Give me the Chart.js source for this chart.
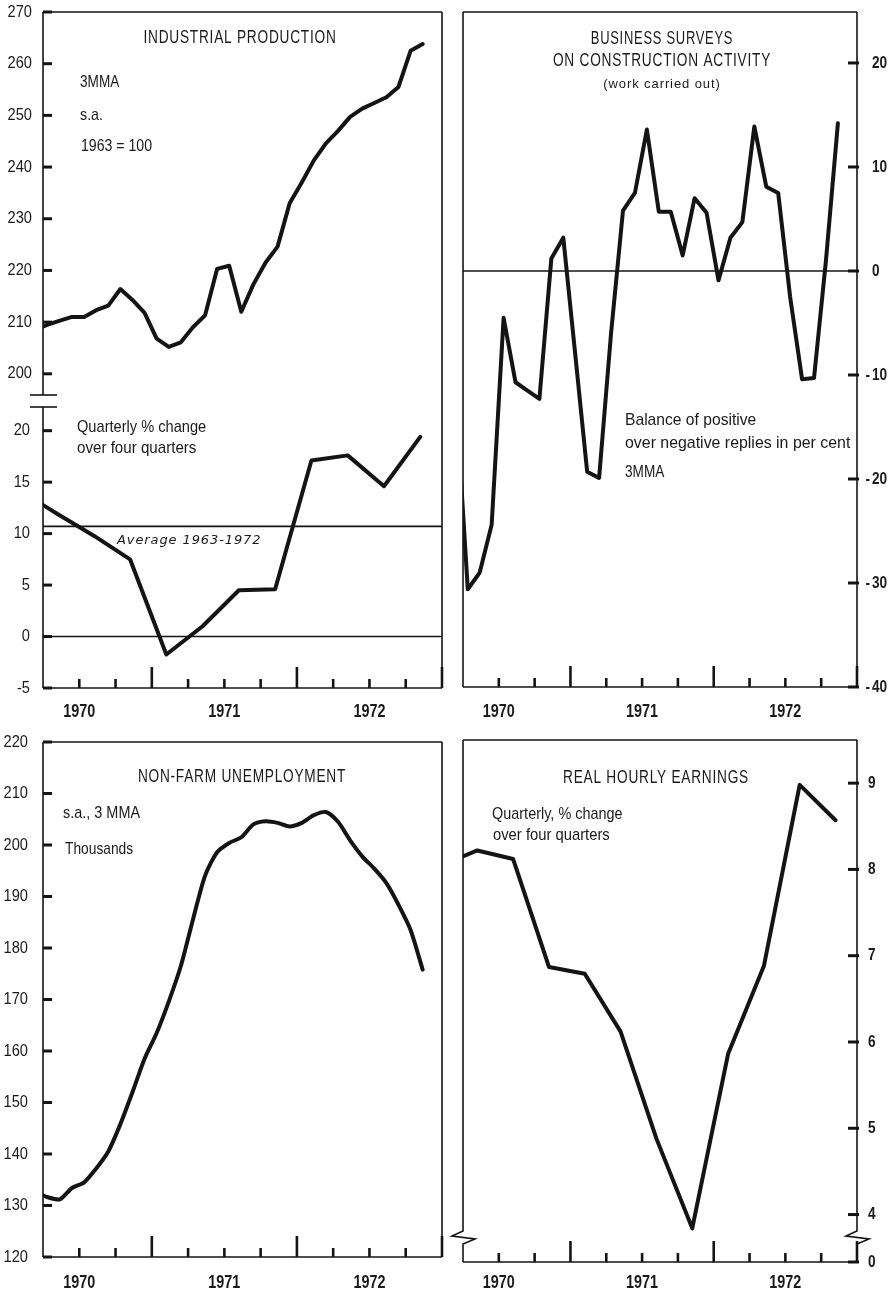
<!DOCTYPE html>
<html>
<head>
<meta charset="utf-8">
<title>Economic indicators 1970–1972</title>
<script src="https://cdn.jsdelivr.net/npm/chart.js@4.4.1/dist/chart.umd.min.js"></script>
<style>
  html, body { margin: 0; padding: 0; background: #ffffff; }
  #sheet { position: relative; width: 891px; height: 1294px; overflow: hidden; background: #ffffff; }
  #sheet canvas { position: absolute; left: 0; top: 0; }
</style>
</head>
<body>
<div id="sheet">
  <canvas id="ipChart" width="891" height="1294"></canvas>
  <canvas id="ipChangeChart" width="891" height="1294"></canvas>
  <canvas id="constructionChart" width="891" height="1294"></canvas>
  <canvas id="unemploymentChart" width="891" height="1294"></canvas>
  <canvas id="earningsChart" width="891" height="1294"></canvas>
</div>
<script>
// ---------------- Data ----------------
// Monthly observations (March 1970 – November 1972)
const MONTHS = [
  '1970-03','1970-04','1970-05','1970-06','1970-07','1970-08','1970-09','1970-10','1970-11','1970-12',
  '1971-01','1971-02','1971-03','1971-04','1971-05','1971-06','1971-07','1971-08','1971-09','1971-10','1971-11','1971-12',
  '1972-01','1972-02','1972-03','1972-04','1972-05','1972-06','1972-07','1972-08','1972-09','1972-10','1972-11'
];
// Quarterly observations (1970 Q1 – 1972 Q4)
const QUARTERS = [
  '1970-Q1','1970-Q2','1970-Q3','1970-Q4',
  '1971-Q1','1971-Q2','1971-Q3','1971-Q4',
  '1972-Q1','1972-Q2','1972-Q3','1972-Q4'
];
const YEARS = ['1970', '1971', '1972'];

// Industrial production, 3MMA, s.a., 1963 = 100
const INDUSTRIAL_PRODUCTION = [
  208.6, 209.5, 210.3, 211.0, 211.0, 212.3, 213.2, 216.4, 214.3, 211.8,
  206.8, 205.2, 206.1, 209.0, 211.3, 220.3, 220.9, 212.0, 217.3, 221.5, 224.6, 233.0,
  237.0, 241.3, 244.6, 247.0, 249.7, 251.3, 252.4, 253.5, 255.5, 262.5, 263.8
];
// Industrial production, quarterly % change over four quarters
const IP_CHANGE = [14.1, 11.9, 9.8, 7.5, -1.75, 1.0, 4.5, 4.6, 17.1, 17.6, 14.6, 19.4];
const IP_AVERAGE_1963_1972 = 10.7;

// Business surveys on construction activity: balance of replies, %, 3MMA
const CONSTRUCTION_BALANCE = [
  -12.0, -30.6, -29.0, -24.4, -4.5, -10.7, -11.5, -12.3, 1.2, 3.2,
  -8.0, -19.3, -19.9, -6.0, 5.8, 7.5, 13.6, 5.7, 5.7, 1.5, 7.0, 5.6,
  -0.9, 3.2, 4.7, 13.9, 8.1, 7.5, -2.5, -10.4, -10.3, 1.0, 14.2
];

// Non-farm unemployment, thousands, s.a., 3MMA
const UNEMPLOYMENT = [
  132.6, 131.6, 131.2, 133.4, 134.5, 137.2, 140.5, 145.8, 152.0, 158.5,
  163.5, 169.6, 176.5, 185.5, 194.0, 198.6, 200.4, 201.5, 204.0, 204.6, 204.3, 203.6,
  204.3, 205.8, 206.4, 204.5, 200.9, 197.8, 195.4, 192.6, 188.4, 183.5, 175.8
];

// Real hourly earnings, quarterly % change over four quarters
const REAL_EARNINGS = [8.05, 8.22, 8.12, 6.87, 6.79, 6.12, 4.88, 3.84, 5.86, 6.88, 8.98, 8.57];

// Axis tick labels
const IP_TICKS = [200, 210, 220, 230, 240, 250, 260, 270];
const IP_CHANGE_TICKS = [-5, 0, 5, 10, 15, 20];
const CONSTRUCTION_TICKS = [-40, -30, -20, -10, 0, 10, 20];
const UNEMPLOYMENT_TICKS = [120, 130, 140, 150, 160, 170, 180, 190, 200, 210, 220];
const EARNINGS_TICKS = [4, 5, 6, 7, 8, 9];
const EARNINGS_BREAK_LABEL = '0';

// ---------------- Time axis ----------------
// x is measured in months from the start of April 1970; the panels run to January 1973.
const X_MIN = 0, X_MAX = 33;
const MONTH_OFFSET = 0.4;    // monthly value sits near mid-month
const QUARTER_OFFSET = 1.2;  // quarterly value sits near mid-quarter
const monthPos = (label) => {
  const [y, m] = label.split('-').map(Number);
  return (y - 1970) * 12 + (m - 4) + MONTH_OFFSET;
};
const quarterPos = (label) => {
  const [y, q] = label.split('-Q').map(Number);
  return (y - 1970) * 12 + (q - 2) * 3 + QUARTER_OFFSET;
};
const yearPos = (label) => (Number(label) - 1970) * 12 + 3;   // middle of the year
const toPoints = (labels, values, pos) => labels.map((l, i) => ({ x: pos(l), y: values[i] }));

// ---------------- Styling ----------------
const INK = '#141414';
const TEXT = '#1a1a1a';
const FACE = "'Liberation Sans', Arial, sans-serif";
const ITALIC = "'DejaVu Sans', 'Liberation Sans', sans-serif";

// Text with optional horizontal compression (narrow lettering)
function drawText(ctx, text, x, y, f) {
  ctx.save();
  ctx.font = `${f.style || 'normal'} ${f.weight || 'normal'} ${f.size}px ${f.family || FACE}`;
  ctx.fillStyle = TEXT;
  ctx.textAlign = f.align || 'left';
  ctx.textBaseline = 'middle';
  if ('letterSpacing' in ctx) ctx.letterSpacing = (f.spacing || 0) + 'px';
  ctx.translate(x, y);
  ctx.scale(f.sx || 1, 1);
  ctx.fillText(text, 0, 0);
  ctx.restore();
}

const LEFT_TICK_FONT = { size: 17, sx: 0.86 };
const RIGHT_TICK_FONT = { size: 17, sx: 0.8, weight: 'bold' };
const YEAR_FONT = { size: 18, sx: 0.8, weight: 'bold', align: 'center' };
const TITLE = { size: 18, sx: 0.76, spacing: 1, align: 'center' };

// Frame, axis breaks, inward tick marks and axis labels of each panel
const panelAxes = {
  id: 'panelAxes',
  afterDatasetsDraw(chart, _args, o) {
    const { ctx, chartArea: a, scales } = chart;
    const seg = (x1, y1, x2, y2, w) => {
      ctx.lineWidth = w; ctx.beginPath(); ctx.moveTo(x1, y1); ctx.lineTo(x2, y2); ctx.stroke();
    };
    ctx.save();
    ctx.strokeStyle = INK;
    ctx.lineCap = 'butt';
    const fw = 1.6;
    const sides = o.sides || [];
    if (sides.includes('top')) seg(a.left, a.top, a.right, a.top, fw);
    if (sides.includes('bottom')) seg(a.left, a.bottom, a.right, a.bottom, fw);
    const vertical = (x, extra) => {
      if (o.zigzag) {
        const yz = a.bottom - o.zigzag;
        ctx.lineWidth = fw;
        ctx.beginPath();
        ctx.moveTo(x, a.top);
        ctx.lineTo(x, yz - 6);
        ctx.lineTo(x - 11, yz - 1);
        ctx.lineTo(x + 12, yz + 2);
        ctx.lineTo(x, yz + 7);
        ctx.lineTo(x, a.bottom);
        ctx.stroke();
      } else {
        seg(x, a.top, x, a.bottom + extra, fw);
      }
    };
    if (sides.includes('left')) vertical(a.left, 0);
    if (sides.includes('right')) vertical(a.right, o.extendRight || 0);
    if (o.breakBottom) seg(a.left - 13, a.bottom, a.left + 14, a.bottom, fw);
    if (o.breakTop) seg(a.left - 13, a.top, a.left + 14, a.top, fw);

    // y tick marks pointing into the plot, with their labels outside
    const y = scales.y;
    y.ticks.forEach(t => {
      const py = y.getPixelForValue(t.value);
      const label = String(t.label);
      if (o.ySide === 'left') {
        seg(a.left, py, a.left + 9, py, 3);
        drawText(ctx, label, a.left - o.labelGap, py, { ...LEFT_TICK_FONT, align: 'right' });
      } else {
        seg(a.right - 9, py, a.right + 2, py, 3);
        const x0 = a.right + o.labelGap;
        if (label.startsWith('-')) {
          drawText(ctx, label.slice(1), x0, py, RIGHT_TICK_FONT);
          drawText(ctx, '-', x0 - 2, py, { ...RIGHT_TICK_FONT, align: 'right' });
        } else {
          drawText(ctx, label, x0, py, RIGHT_TICK_FONT);
        }
      }
    });

    // quarter ticks on the time axis (longer at year ends) and year labels
    if (o.xMarks) {
      const x = scales.x;
      for (let v = 3; v <= X_MAX; v += 3) {
        const px = x.getPixelForValue(v);
        const major = (v - 9) % 12 === 0;
        seg(px, a.bottom, px, a.bottom - (major ? 21 : 9), 2.6);
      }
      x.ticks.forEach(t => {
        drawText(ctx, String(t.label), x.getPixelForValue(t.value), a.bottom + o.yearGap, YEAR_FONT);
      });
    }
    ctx.restore();
  }
};

// Titles and explanatory notes placed inside each panel
const panelNotes = {
  id: 'panelNotes',
  afterDraw(chart, _args, o) {
    const { ctx, chartArea: a } = chart;
    (o.items || []).forEach(n => {
      const py = n.atValue !== undefined ? chart.scales.y.getPixelForValue(n.atValue) + n.dy : a.top + n.dy;
      drawText(ctx, n.text, a.left + n.dx, py, { size: 17, sx: 0.86, ...n });
    });
  }
};
Chart.register(panelAxes, panelNotes);

const seriesLine = (points, tension = 0) => ({
  data: points, borderColor: INK, borderWidth: 4, pointRadius: 0, tension,
  borderJoinStyle: 'round', borderCapStyle: 'round', clip: 0
});
const levelLine = (value) => ({
  data: [{ x: X_MIN, y: value }, { x: X_MAX, y: value }],
  borderColor: INK, borderWidth: 1.6, pointRadius: 0, clip: 0
});

function buildPanel(canvasId, spec) {
  return new Chart(document.getElementById(canvasId), {
    type: 'line',
    data: { datasets: spec.datasets },
    options: {
      responsive: false,
      animation: false,
      events: [],
      layout: { padding: spec.padding },
      plugins: {
        legend: { display: false },
        tooltip: { enabled: false },
        panelAxes: spec.axes,
        panelNotes: { items: spec.notes }
      },
      scales: {
        x: {
          type: 'linear', min: X_MIN, max: X_MAX, display: spec.showYears,
          grid: { display: false, drawTicks: false }, border: { display: false },
          afterBuildTicks: (s) => { s.ticks = YEARS.map(yr => ({ value: yearPos(yr) })); },
          afterFit: (s) => { if (spec.showYears) s.height = spec.xHeight; },
          ticks: {
            display: false, autoSkip: false,
            callback: (v) => YEARS.find(yr => yearPos(yr) === v) || ''
          }
        },
        y: {
          type: 'linear', position: spec.ySide, min: spec.yMin, max: spec.yMax,
          grid: { display: false, drawTicks: false }, border: { display: false },
          afterBuildTicks: (s) => { s.ticks = spec.yTicks.map(v => ({ value: v })); },
          afterFit: (s) => { s.width = spec.yWidth; },
          ticks: { display: false, callback: spec.yLabel || ((v) => String(v)) }
        }
      }
    }
  });
}

// Industrial production index
buildPanel('ipChart', {
  datasets: [seriesLine(toPoints(MONTHS, INDUSTRIAL_PRODUCTION, monthPos))],
  yMin: 195.9, yMax: 270, yTicks: IP_TICKS, ySide: 'left', yWidth: 43,
  showYears: false,
  padding: { left: 0, top: 12, right: 449, bottom: 899 },
  axes: { sides: ['top', 'left', 'right'], extendRight: 12, breakBottom: true, ySide: 'left', labelGap: 11 },
  notes: [
    { text: 'INDUSTRIAL PRODUCTION', dx: 197, dy: 26, ...TITLE },
    { text: '3MMA', dx: 37, dy: 70, sx: 0.8 },
    { text: 's.a.', dx: 37, dy: 103, sx: 0.84 },
    { text: '1963 = 100', dx: 38, dy: 134, sx: 0.83 }
  ]
});

// Industrial production, change over four quarters
buildPanel('ipChangeChart', {
  datasets: [
    levelLine(0),
    levelLine(IP_AVERAGE_1963_1972),
    seriesLine(toPoints(QUARTERS, IP_CHANGE, quarterPos))
  ],
  yMin: -5, yMax: 22.3, yTicks: IP_CHANGE_TICKS, ySide: 'left', yWidth: 43,
  showYears: true, xHeight: 36,
  padding: { left: 0, top: 407, right: 449, bottom: 570 },
  axes: { sides: ['left', 'right', 'bottom'], breakTop: true, ySide: 'left', labelGap: 13, xMarks: true, yearGap: 24 },
  notes: [
    { text: 'Quarterly % change', dx: 34, dy: 20, sx: 0.86 },
    { text: 'over four quarters', dx: 34, dy: 41, sx: 0.89 },
    { text: 'Average 1963-1972', dx: 74, dy: 14, atValue: IP_AVERAGE_1963_1972, size: 13, sx: 1, style: 'italic', family: ITALIC, spacing: 0.9 }
  ]
});

// Business surveys on construction activity
buildPanel('constructionChart', {
  datasets: [
    levelLine(0),
    seriesLine(toPoints(MONTHS, CONSTRUCTION_BALANCE, monthPos))
  ],
  yMin: -40, yMax: 24.9, yTicks: CONSTRUCTION_TICKS, ySide: 'right', yWidth: 34,
  showYears: true, xHeight: 36,
  padding: { left: 463, top: 12, right: 0, bottom: 571 },
  axes: { sides: ['top', 'left', 'right', 'bottom'], ySide: 'right', labelGap: 15, xMarks: true, yearGap: 25 },
  notes: [
    { text: 'BUSINESS SURVEYS', dx: 199, dy: 27, ...TITLE, sx: 0.72 },
    { text: 'ON CONSTRUCTION ACTIVITY', dx: 199, dy: 49, ...TITLE },
    { text: '(work carried out)', dx: 199, dy: 72, size: 13, sx: 1, spacing: 0.9, align: 'center' },
    { text: 'Balance of positive', dx: 162, dy: 408, sx: 0.92 },
    { text: 'over negative replies in per cent', dx: 162, dy: 431, sx: 0.935 },
    { text: '3MMA', dx: 162, dy: 460, sx: 0.8 }
  ]
});

// Non-farm unemployment
buildPanel('unemploymentChart', {
  datasets: [seriesLine(toPoints(MONTHS, UNEMPLOYMENT, monthPos), 0.25)],
  yMin: 120, yMax: 220, yTicks: UNEMPLOYMENT_TICKS, ySide: 'left', yWidth: 43,
  showYears: true, xHeight: 36,
  padding: { left: 0, top: 742, right: 449, bottom: 1 },
  axes: { sides: ['top', 'left', 'right', 'bottom'], ySide: 'left', labelGap: 15, xMarks: true, yearGap: 26 },
  notes: [
    { text: 'NON-FARM UNEMPLOYMENT', dx: 199, dy: 35, ...TITLE },
    { text: 's.a., 3 MMA', dx: 20, dy: 71, sx: 0.85 },
    { text: 'Thousands', dx: 22, dy: 107, sx: 0.81 }
  ]
});

// Real hourly earnings (axis broken between 0 and 4)
const EARNINGS_MIN = 3.45;
buildPanel('earningsChart', {
  datasets: [seriesLine(toPoints(QUARTERS, REAL_EARNINGS, quarterPos))],
  yMin: EARNINGS_MIN, yMax: 9.5, yTicks: [EARNINGS_MIN, ...EARNINGS_TICKS], ySide: 'right', yWidth: 34,
  yLabel: (v) => (v === EARNINGS_MIN ? EARNINGS_BREAK_LABEL : String(v)),
  showYears: true, xHeight: 32,
  padding: { left: 463, top: 740, right: 0, bottom: 0 },
  axes: { sides: ['top', 'left', 'right', 'bottom'], zigzag: 25, ySide: 'right', labelGap: 11, xMarks: true, yearGap: 21 },
  notes: [
    { text: 'REAL HOURLY EARNINGS', dx: 193, dy: 38, ...TITLE },
    { text: 'Quarterly, % change', dx: 29, dy: 74, sx: 0.85 },
    { text: 'over four quarters', dx: 30, dy: 95, sx: 0.87 }
  ]
});
</script>
</body>
</html>
